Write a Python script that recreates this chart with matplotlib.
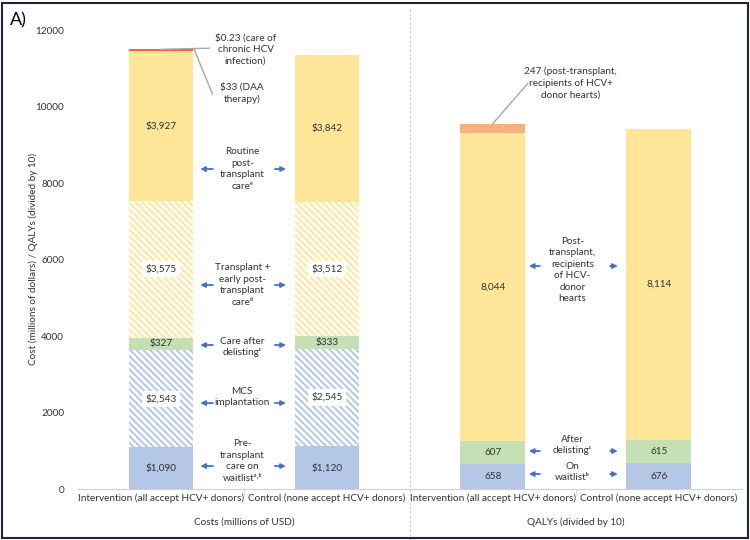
import numpy as np
import matplotlib.pyplot as plt
from matplotlib.patches import Rectangle

plt.rcParams['font.family'] = ['Lato', 'DejaVu Sans']
plt.rcParams['hatch.linewidth'] = 1.4

# categories
cats = ['Intervention (all accept HCV+ donors)', 'Control (none accept HCV+ donors)',
        'Intervention (all accept HCV+ donors)', 'Control (none accept HCV+ donors)']
groups = ['Costs (millions of USD)', 'QALYs (divided by 10)']

# cost segments (millions of USD), bottom to top
cost_waitlist = [1090, 1120]
cost_mcs = [2543, 2545]
cost_delist = [327, 333]
cost_transplant = [3575, 3512]
cost_routine = [3927, 3842]
cost_daa = [33, 0]
cost_chronic = [0.23, 0]

# QALY segments (divided by 10), bottom to top
qaly_waitlist = [658, 676]
qaly_delist = [607, 615]
qaly_neg = [8044, 8114]
qaly_pos = [247, 0]

FS = 7.2
TC = '#333333'

fig = plt.figure(figsize=(7.5, 5.4), dpi=100)
ax = fig.add_axes([0.104, 0.0944, 0.885, 0.85])

x = np.arange(4)
w = 0.39
blue = '#b4c7e7'
green = '#c5e0b4'
yellow = '#ffe699'
hatch = '\\\\\\\\\\'

def stack(xs, segs):
    bottom = np.zeros(len(xs))
    for vals, col, h, lab in segs:
        vals = np.array(vals, dtype=float)
        if h:
            ax.bar(xs, vals, w, bottom=bottom, facecolor='white', edgecolor=col,
                   hatch=h, linewidth=0)
        else:
            ax.bar(xs, vals, w, bottom=bottom, color=col, linewidth=0)
        if lab is not None:
            for xi, b, v in zip(xs, bottom, vals):
                if v <= 0:
                    continue
                bb = dict(facecolor='white', edgecolor='none', pad=2.5) if h else None
                ax.text(xi, b + v / 2, lab.format(v), ha='center', va='center',
                        fontsize=FS, color=TC, bbox=bb)
        bottom = bottom + vals
    return bottom

top_cost = stack(x[:2], [
    (cost_waitlist, blue, None, '${:,.0f}'),
    (cost_mcs, blue, hatch, '${:,.0f}'),
    (cost_delist, green, None, '${:,.0f}'),
    (cost_transplant, yellow, hatch, '${:,.0f}'),
    (cost_routine, yellow, None, '${:,.0f}'),
    (cost_daa, '#f4624a', None, None),
    (cost_chronic, '#f4624a', None, None),
])
top_qaly = stack(x[2:], [
    (qaly_waitlist, blue, None, '{:,.0f}'),
    (qaly_delist, green, None, '{:,.0f}'),
    (qaly_neg, yellow, None, '{:,.0f}'),
    (qaly_pos, '#f4b183', None, None),
])

ax.set_ylim(0, 12000)
ax.set_xlim(-0.5, 3.5)
ax.set_yticks(np.arange(0, 12001, 2000))
ax.tick_params(axis='y', length=0, labelsize=FS, colors=TC, pad=10)
ax.set_xticks(x)
ax.set_xticklabels(cats, fontsize=FS, color=TC)
ax.tick_params(axis='x', length=0, pad=3)
ax.set_xticks([0.5, 2.5], minor=True)
ax.tick_params(axis='x', which='minor', length=4, color='#d0d0d0')
for s in ['top', 'right', 'left']:
    ax.spines[s].set_visible(False)
ax.spines['bottom'].set_color('#d0d0d0')
fig.text(33 / 750, 0.52, 'Cost (millions of dollars) / QALYs (divided by 10)', fontsize=FS,
         color=TC, rotation=90, ha='center', va='center')

# group labels and separator
trans = ax.get_xaxis_transform()
for gx, g in zip([0.5, 2.5], groups):
    ax.text(gx, -0.072, g, transform=trans, ha='center', va='center', fontsize=FS, color=TC)
ax.plot([1.5, 1.5], [-0.11, 1.045], transform=trans, color='#c8c8c8', lw=0.8,
        ls=(0, (2, 2)), clip_on=False)

# middle labels with arrows
acol = '#4472c4'
def mid(xc, ty, ay, txt, xl, xr):
    ax.text(xc, ty, txt, ha='center', va='center', fontsize=FS, color=TC,
            linespacing=1.35)
    for a, b in (xl, xr):
        ax.annotate('', xy=(b, ay), xytext=(a, ay),
                    arrowprops=dict(arrowstyle='-|>', color=acol, lw=1.3, mutation_scale=7))

L1 = ((0.33, 0.22), (0.67, 0.77))
mid(0.49, 8366, 8366, 'Routine\npost-\ntransplant\ncare\u1d49', *L1)
mid(0.49, 5333, 5333, 'Transplant +\nearly post-\ntransplant\ncare\u1d48', *L1)
mid(0.49, 3712, 3765, 'Care after\ndelisting\u1d9c', *L1)
mid(0.49, 2405, 2248, 'MCS\nimplantation', *L1)
mid(0.49, 732, 601, 'Pre-\ntransplant\ncare on\nwaitlist\u1d43\u02d2\u1d47', *L1)

L2 = ((2.30, 2.20), (2.69, 2.77))
mid(2.48, 5725, 5830, 'Post-\ntransplant,\nrecipients\nof HCV-\ndonor\nhearts', *L2)
mid(2.48, 1150, 993, 'After\ndelisting\u1d9c', *L2)
mid(2.48, 444, 392, 'On\nwaitlist\u1d47', *L2)

# leader-line callouts
gcol = '#a6a6a6'
ax.plot([0, 0.29], [top_cost[0], top_cost[0] + 30], color=gcol, lw=1)
ax.text(0.51, 11503, '$0.23 (care of\nchronic HCV\ninfection)', ha='center', va='center',
        fontsize=FS, color=TC, linespacing=1.35)
ax.plot([0.2, 0.31], [top_cost[0], 10330], color=gcol, lw=1)
ax.text(0.49, 10353, '$33 (DAA\ntherapy)', ha='center', va='center',
        fontsize=FS, color=TC, linespacing=1.35)
ax.plot([2.0, 2.21], [top_qaly[0], 10600], color=gcol, lw=1)
ax.text(2.47, 10614, '247 (post-transplant,\nrecipients of HCV+\ndonor hearts)', ha='center',
        va='center', fontsize=FS, color=TC, linespacing=1.35)

fig.text(0.013, 0.962, 'A)', fontsize=13, va='center', ha='left')
fig.patches.append(Rectangle((0.003, 0.004), 0.994, 0.99, transform=fig.transFigure,
                             fill=False, edgecolor='#1f2535', lw=1.5))

fig.savefig('out.png', dpi=100)
